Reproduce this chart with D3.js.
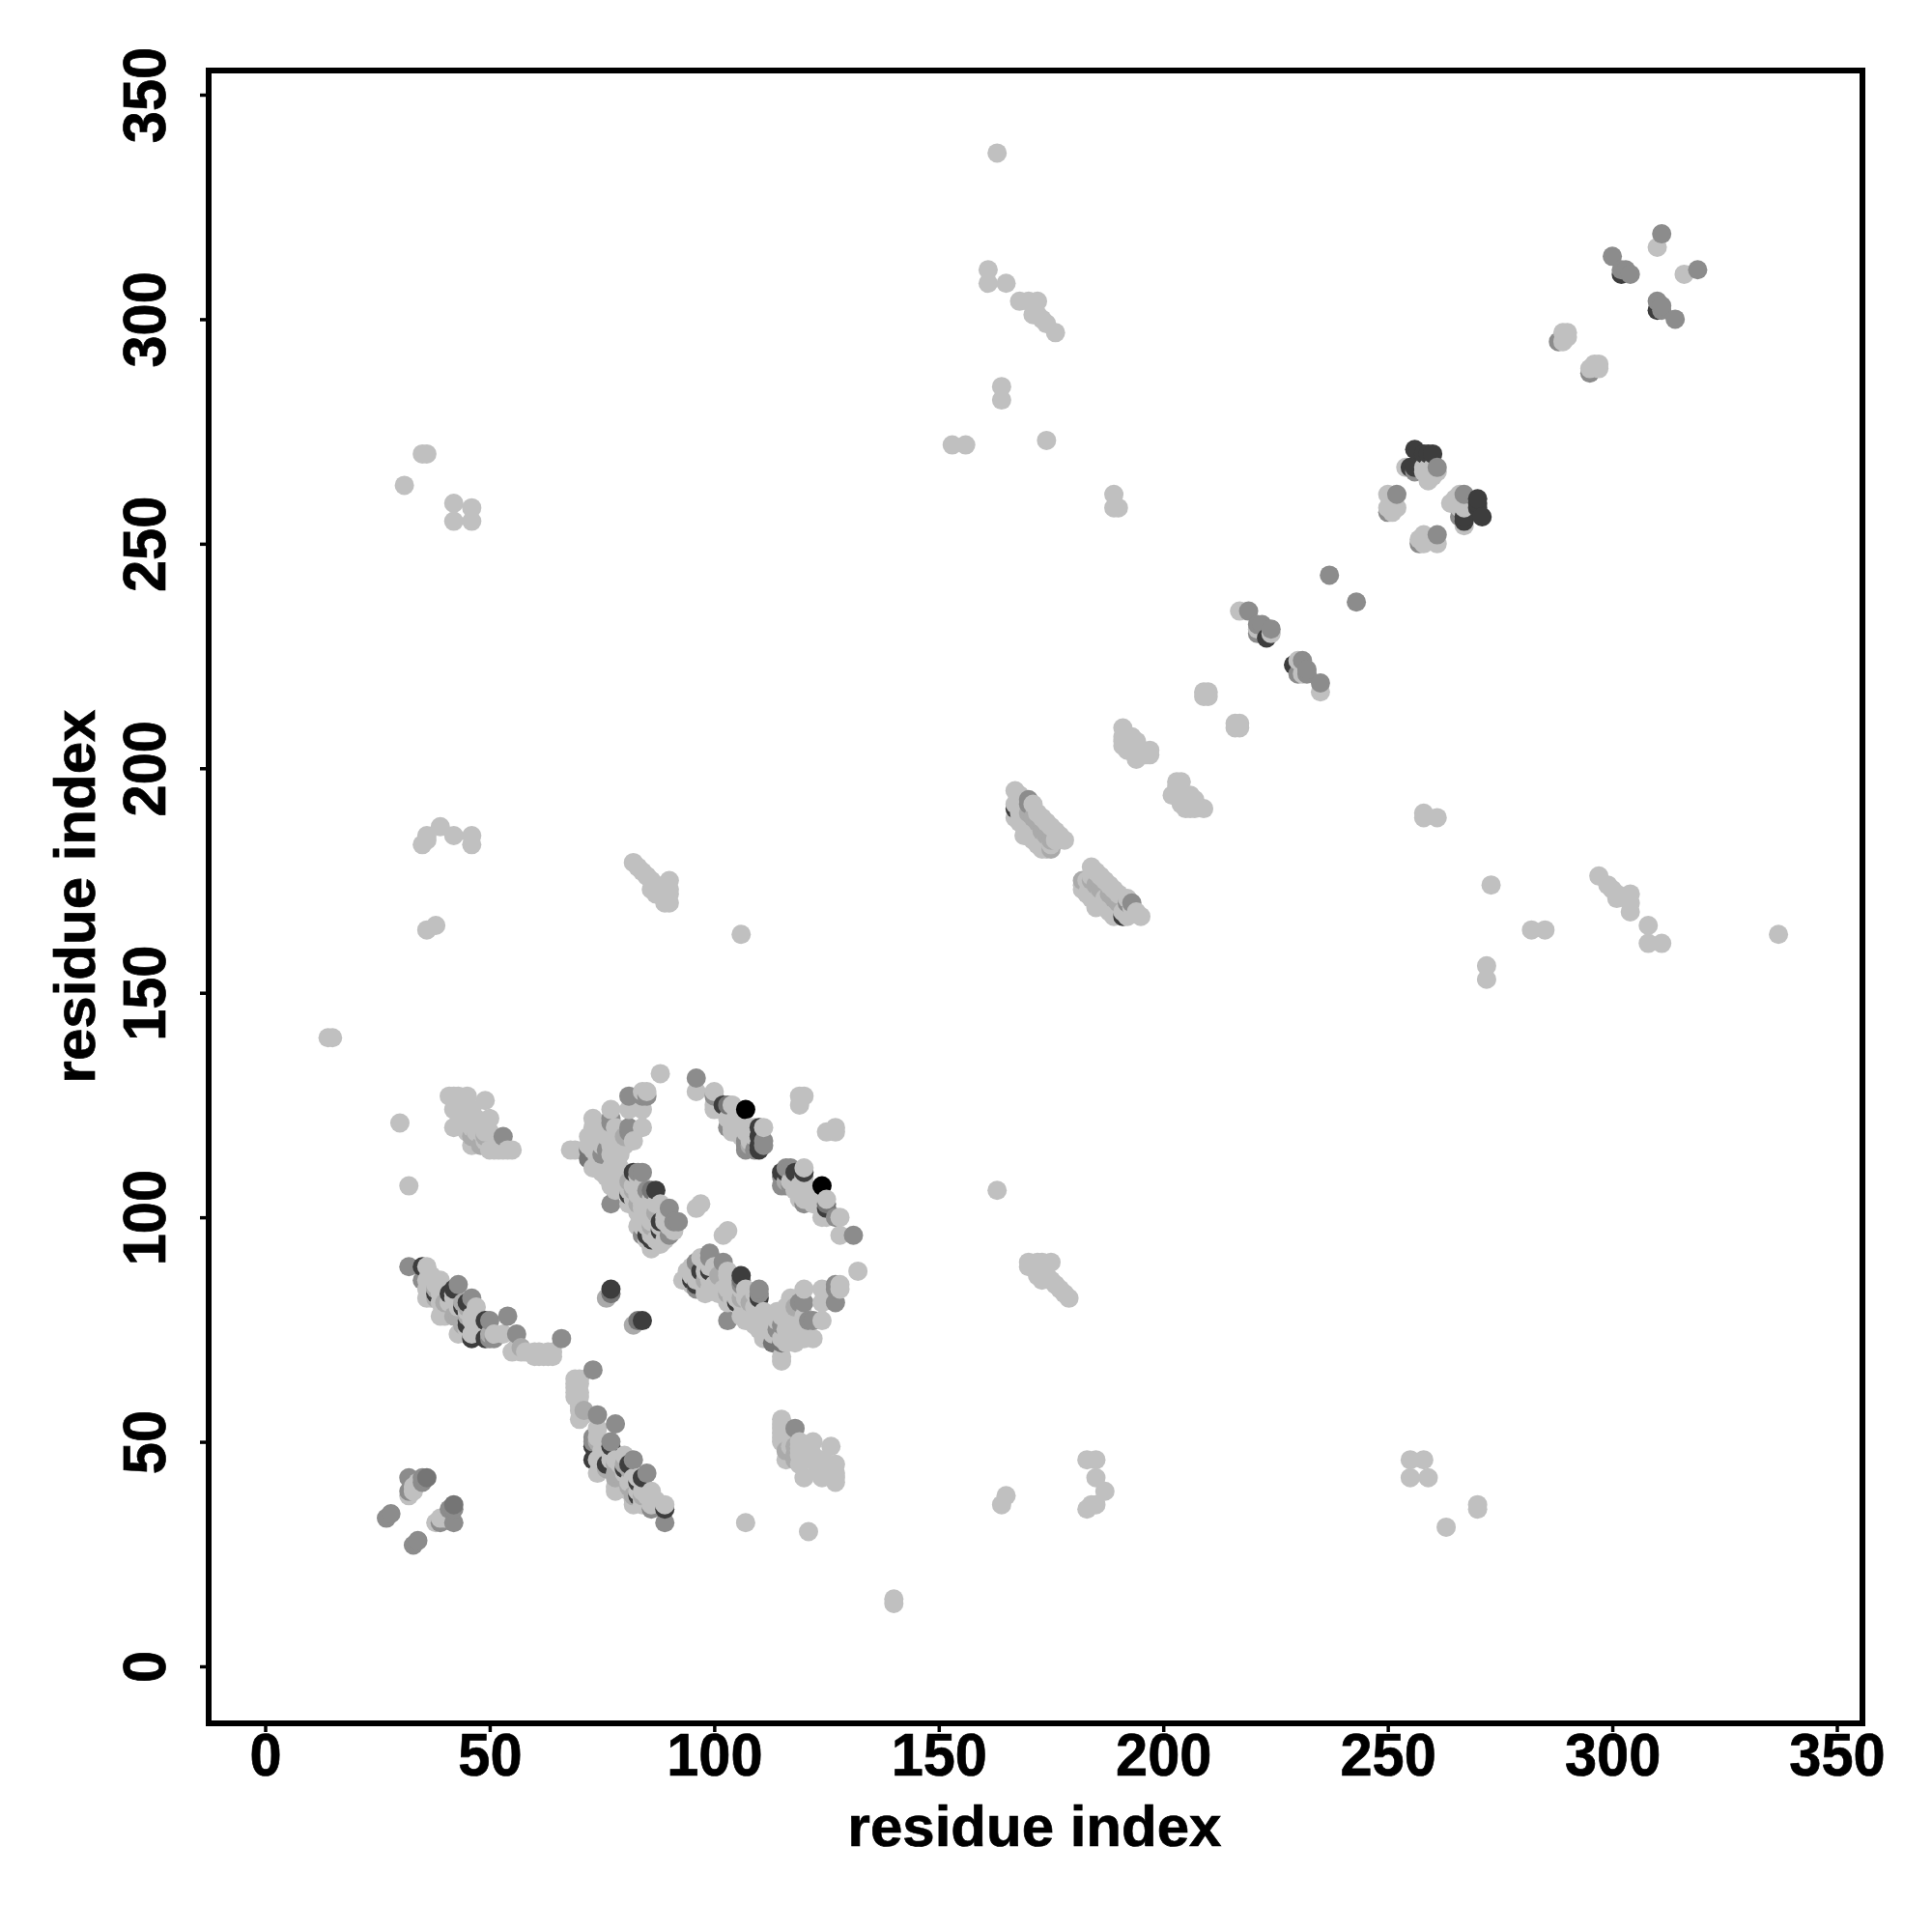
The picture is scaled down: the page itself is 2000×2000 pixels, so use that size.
<!DOCTYPE html>
<html><head><meta charset="utf-8">
<script src="https://cdn.jsdelivr.net/npm/d3@7"></script>
<style>html,body{margin:0;background:#fff}svg{display:block}text{font-family:"Liberation Sans",Arial,sans-serif;font-weight:bold;fill:#000}</style>
</head><body><div id="c"></div>
<script>
const tickValues=[0,50,100,150,200,250,300,350];
const axisLabel="residue index";
const contactsLight=[[33,40],[34,41],[32,38],[33,39],
[36,89],[36,86],[39,86],[36,82],[37,84],[39,81],[43,80],[39,78],[40,78],[43,74],[46,74],[47,77],[45,79],[47,80],[53,74],[55,70],[56,71],[57,70],[58,70],[60,69],[61,69],[62,69],[63,69],[64,70],[63,70],[60,70],[61,70],[64,69],[45,75],[48,75],[51,74],[42,83],[41,81],[38,85],[37,87],[37,82],[36,84],[39,83],[39,84],[42,82],[46,78],[46,77],
[41,127],[42,127],[43,127],[45,127],[49,126],[42,124],[44,124],[46,124],[45,124],[47,122],[50,122],[46,122],[42,120],[46,120],[47,120],[45,119],[47,119],[48,119],[49,119],[50,119],[46,116],[50,115],[51,115],[52,115],[53,115],[54,115],[55,115],[49,117],[48,121],[44,123],
[30,121],[32,107],[31,263],[35,270],[36,270],[42,259],[42,255],[46,258],[46,255],[35,183],[36,184],[36,185],[39,187],[42,185],[46,185],[46,183],[36,164],[38,165],[14,140],[15,140],[106,163],[163,337],[161,311],[161,308],[165,308],[168,304],[170,304],[172,304],[171,301],[172,301],[173,300],[174,299],[176,297],[164,285],[164,282],[153,272],[156,272],[174,273],[189,261],[189,258],[190,258],[88,132],
[82,179],[83,178],[84,177],[85,176],[86,175],[87,174],[88,173],[90,175],[90,173],[90,172],[90,170],[89,171],[88,172],[87,172],[89,170],[86,173],
[96,128],[100,128],[100,124],[104,125],[104,121],[108,120],[111,120],[119,127],[120,127],[119,125],[125,119],[127,120],[127,119],[107,120],[96,102],[97,103],[108,117],[109,118],[106,122],[105,119],[105,123],[100,125],[104,119],[106,118],[107,119],[108,118],[105,120],[106,120],
[84,128],[85,128],[77,124],[81,124],[84,124],[73,122],[73,120],[77,120],[84,120],[73,118],[73,116],[74,117],[68,115],[69,115],[79,116],[76,118],[78,117],[75,116],[77,116],[73,111],[75,110],[77,111],[79,111],[76,109],[77,107],[78,106],[79,108],[80,109],[81,103],[82,104],[83,105],[84,104],[84,98],[85,100],[86,101],[87,99],[87,103],[86,104],[88,94],[89,95],[91,97],[90,98],[88,96],[89,100],[84,102],[85,103],[83,101],[82,107],[83,109],[84,106],[74,120],[78,120],
[88,103],[84,99],[83,102],[84,107],[73,119],[72,116],[78,107],[86,97],[88,98],[85,101],[84,103],[87,95],[86,93],[85,95],[86,99],[83,98],[85,98],[81,106],[80,108],[79,114],[78,115],[77,114],[74,113],[73,115],[72,118],[75,118],[80,116],[82,117],[86,96],[89,99],[82,105],
[109,120],[104,120],[120,106],[120,109],[121,105],[122,103],
[167,195],[168,194],[169,193],[171,192],[172,190],[173,189],[174,188],[175,187],[176,186],[177,185],[178,184],[168,192],[168,191],[167,192],[168,190],[167,189],[168,188],[169,187],[169,185],[170,185],[171,184],[172,183],[173,182],[174,182],[175,183],[170,188],[171,187],[172,186],[173,185],[174,184],[176,184],
[191,209],[191,207],[193,207],[191,205],[192,204],[194,206],[196,203],[197,204],[194,202],[195,203],[197,203],[191,206],[192,206],[193,205],[194,204],
[209,217],[210,216],[209,216],[210,217],
[217,235],[221,231],[224,230],[289,297],[290,297],[289,295],[290,296],[310,316],
[254,267],[258,267],[259,267],[250,261],[251,257],[252,258],[251,258],[250,258],[259,264],[260,265],[258,266],[259,266],[260,267],[260,266],[261,266]];
const contactsPale=[[43,78],[57,71],[45,80],[42,78],[40,81],[38,82],[44,76],[50,74],[49,118],[47,118],[46,118],[48,116],[170,190],[171,189],[172,188],[173,186],[174,185],[175,184],[175,182],[76,82],[80,118],[87,101],[86,98],[81,108],[82,106],[83,103],[38,84],[44,81],[45,78],[108,116],[116,108]];
const contactsMid=[[27,33],[28,34],[32,42],[35,42],[32,39],[35,41],
[32,89],[35,86],[43,85],[46,82],[54,78],[50,77],[56,74],[66,73],[50,73],[51,73],[53,118],
[96,131],[103,120],[107,116],[107,117],[111,117],[111,116],[127,100],[107,115],[109,115],
[81,127],[84,127],[85,127],[77,121],[81,120],[76,115],[77,103],[84,110],[85,106],[90,102],[92,99],[91,99],[84,96],[90,96],[81,119],[77,122],[75,114],[83,110],
[219,235],[221,232],[222,232],[224,231],[221,230],[237,243],[300,314],[302,311],[304,310],[311,319],[288,295],[252,261],[261,267],[250,257],[170,193],[170,192],[256,266],[303,311]];
const contactsDeep=[[36,42],[72,115],[72,113],[77,83],[86,106],[103,125]];
const contactsDark=[[35,89],[38,83],[41,83],[45,81],[45,77],[49,77],[46,73],[49,73],[42,84],[44,80],[45,76],
[82,110],[81,105],[88,99],[85,96],[87,106],[110,120],[110,115],[110,118],[110,116],[102,125],[77,84],[88,97],[86,95],
[223,229],[256,271],[259,270],[260,270],[258,270],[256,267],[255,267],[302,310],[167,191]];
const contactsBlack=[[107,124]];

const shades=[["#c0c0c0",contactsLight],["#aaaaaa",contactsPale],["#8c8c8c",contactsMid],["#757575",contactsDeep],["#3d3d3d",contactsDark],["#000000",contactsBlack]];
const seen=new Set(),points=[];
shades.slice().reverse().forEach(([grey,list])=>list.forEach(([a,b])=>{
  for(const [px,py] of [[a,b],[b,a]]){
    const k=px+"_"+py;
    if(!seen.has(k)){seen.add(k);points.push({px,py,grey});}
  }
}));
points.sort((p,q)=>d3.ascending(p.px,q.px)||d3.ascending(p.py,q.py));

const W=2000,H=2000;
const x=d3.scaleLinear().domain([0,350]).range([274.5,1901.5]);
const y=d3.scaleLinear().domain([0,350]).range([1725,98]);
const frame={l:216,r:1928,t:73,b:1784};
const svg=d3.select("#c").append("svg").attr("width",W).attr("height",H);
svg.append("g").selectAll("circle").data(points).join("circle")
  .attr("cx",d=>x(d.px)).attr("cy",d=>y(d.py)).attr("r",10).attr("fill",d=>d.grey);
svg.append("rect").attr("x",frame.l).attr("y",frame.t).attr("width",frame.r-frame.l).attr("height",frame.b-frame.t)
  .attr("fill","none").attr("stroke","#000").attr("stroke-width",6);
const xa=svg.append("g").attr("transform",`translate(0,${frame.b})`)
  .call(d3.axisBottom(x).tickValues(tickValues).tickSize(9).tickSizeOuter(0).tickFormat(d3.format("d")));
const ya=svg.append("g").attr("transform",`translate(${frame.l},0)`)
  .call(d3.axisLeft(y).tickValues(tickValues).tickSize(9).tickSizeOuter(0).tickFormat(d3.format("d")));
[xa,ya].forEach(g=>{g.select(".domain").remove();g.selectAll("line").attr("stroke","#000").attr("stroke-width",3.5);});
const tickStyle=s=>s.attr("dy",0).attr("text-anchor","middle").attr("font-size",62)
  .attr("stroke","#000").attr("stroke-width",0.7)
  .style("font-family",'"Liberation Sans"').style("font-weight","bold");
xa.selectAll("text").attr("y",0).call(tickStyle).attr("transform","translate(0,54) scale(0.96,1)");
ya.selectAll("text").attr("x",0).call(tickStyle).attr("transform","translate(-45,0) rotate(-90) scale(0.96,1)");
svg.append("text").attr("x",1071).attr("y",1911).attr("text-anchor","middle").attr("font-size",60).attr("stroke","#000").attr("stroke-width",0.7).text(axisLabel);
svg.append("text").attr("transform","translate(98,928) rotate(-90)").attr("text-anchor","middle").attr("font-size",60).attr("stroke","#000").attr("stroke-width",0.7).text(axisLabel);
</script></body></html>
